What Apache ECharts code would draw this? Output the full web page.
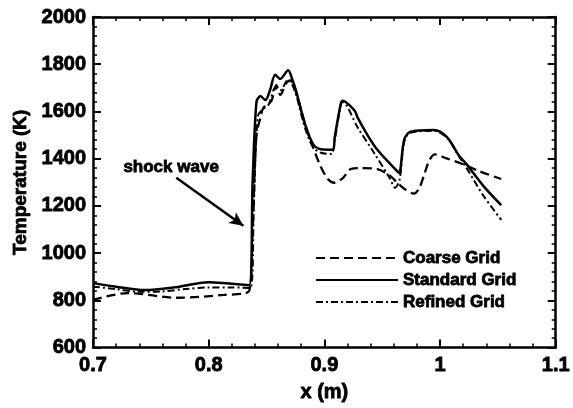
<!DOCTYPE html>
<html>
<head>
<meta charset="utf-8">
<script src="https://cdn.jsdelivr.net/npm/echarts@6/dist/echarts.min.js"></script>
<style>
  html, body { margin: 0; padding: 0; background: #fff; }
  #chart { width: 573px; height: 408px; }
</style>
</head>
<body>
<div id="chart"></div>
<script>
// x (m), temperature (K)
var coarseGrid = [
    [0.7, 802], [0.73, 831], [0.773, 811], [0.813, 823], [0.835, 840],
    [0.838, 1100], [0.8413, 1500], [0.8448, 1575], [0.8474, 1616], [0.8542, 1645],
    [0.8585, 1711], [0.8619, 1670], [0.867, 1719], [0.8705, 1731], [0.875, 1690],
    [0.8833, 1546], [0.8901, 1451], [0.896, 1376], [0.903, 1314], [0.909, 1298],
    [0.916, 1318], [0.9227, 1356], [0.931, 1360], [0.9458, 1356], [0.957, 1327],
    [0.963, 1298], [0.969, 1273], [0.9775, 1252], [0.9818, 1273], [0.986, 1327],
    [0.9904, 1389], [0.9955, 1418], [1.0058, 1401], [1.0203, 1376], [1.034, 1347],
    [1.0529, 1314]
];
var standardGrid = [
    [0.7, 873], [0.72, 858], [0.745, 844], [0.77, 855], [0.8, 877], [0.835, 864],
    [0.838, 1300], [0.8413, 1640], [0.8448, 1665], [0.849, 1648], [0.853, 1690],
    [0.8576, 1755], [0.8619, 1738], [0.8687, 1775], [0.872, 1740], [0.8756, 1686],
    [0.8833, 1546], [0.8901, 1463], [0.897, 1440], [0.9073, 1438], [0.909, 1492],
    [0.9141, 1630], [0.9158, 1645], [0.9261, 1604], [0.9287, 1575], [0.9373, 1500],
    [0.9458, 1438], [0.963, 1347], [0.9647, 1339], [0.969, 1480], [0.9741, 1513],
    [0.9947, 1521], [1.0058, 1492], [1.017, 1409], [1.023, 1376], [1.0374, 1285],
    [1.0529, 1203]
];
var refinedGrid = [
    [0.7, 858], [0.72, 848], [0.74, 836], [0.76, 838], [0.78, 848], [0.8, 855],
    [0.82, 855], [0.836, 852], [0.839, 1200], [0.8425, 1580], [0.847, 1610],
    [0.852, 1630], [0.8576, 1700], [0.8619, 1690], [0.8687, 1735], [0.872, 1715],
    [0.8756, 1670], [0.8833, 1530], [0.8901, 1450], [0.897, 1425], [0.906, 1420],
    [0.909, 1480], [0.9141, 1625], [0.9158, 1640], [0.9287, 1533], [0.9433, 1422],
    [0.957, 1314], [0.961, 1277], [0.965, 1310], [0.969, 1470], [0.9741, 1510],
    [0.9947, 1518], [1.0058, 1490], [1.017, 1405], [1.023, 1360], [1.0374, 1244],
    [1.0529, 1141]
];
var seriesNames = ['Coarse Grid', 'Standard Grid', 'Refined Grid'];
// shock wave arrow: start and end, in data units
var arrowFrom = [0.772, 1319];
var arrowTo = [0.830, 1116];

var myChart = echarts.init(document.getElementById('chart'));
var font = '"Liberation Sans", Arial, sans-serif';

// heavy bold text like the original
function boldText(size) {
    return {
        color: '#000', fontFamily: font, fontWeight: 'bold', fontSize: size,
        textBorderColor: '#000', textBorderWidth: 0.8
    };
}

var tickStyle = { color: '#000', width: 2 };
function makeX(pos, labels) {
    return {
        type: 'value', position: pos, min: 0.7, max: 1.1, interval: 0.1,
        axisLine: { show: true, onZero: false, lineStyle: { color: '#000', width: 2.5 } },
        axisTick: { show: true, inside: true, length: 8, lineStyle: tickStyle },
        minorTick: { show: true, splitNumber: 5, length: 4, lineStyle: { color: '#000', width: 1.5 } },
        splitLine: { show: false },
        axisLabel: Object.assign({
            show: labels, margin: 8,
            formatter: function (v) { return String(+v.toFixed(1)); }
        }, boldText(20)),
        name: labels ? 'x (m)' : '', nameLocation: 'middle', nameGap: 35,
        nameTextStyle: boldText(20)
    };
}
function makeY(pos, labels) {
    return {
        type: 'value', position: pos, min: 600, max: 2000, interval: 200,
        axisLine: { show: true, onZero: false, lineStyle: { color: '#000', width: 2.5 } },
        axisTick: { show: true, inside: true, length: 8, lineStyle: tickStyle },
        minorTick: { show: true, splitNumber: 5, length: 4, lineStyle: { color: '#000', width: 1.5 } },
        splitLine: { show: false },
        axisLabel: Object.assign({
            show: labels, margin: 7,
            formatter: function (v) { return String(v); }
        }, boldText(20)),
        name: labels ? 'Temperature (K)' : '', nameLocation: 'middle', nameGap: 57,
        nameTextStyle: boldText(19)
    };
}

var option = {
    animation: false,
    backgroundColor: '#fff',
    grid: { left: 93, right: 13, top: 17, bottom: 52 },
    xAxis: [makeX('bottom', true), makeX('top', false)],
    yAxis: [makeY('left', true), makeY('right', false)],
    legend: {
        orient: 'vertical', left: 310, top: 244,
        itemWidth: 82, itemHeight: 18, itemGap: 4,
        itemStyle: { opacity: 0 },
        data: seriesNames,
        textStyle: Object.assign({ lineHeight: 18 }, boldText(17))
    },
    graphic: [{
        type: 'text', left: 123, top: 158,
        style: { text: 'shock wave', fill: '#000', font: 'bold 17px ' + font, stroke: '#000', lineWidth: 0.8 }
    }],
    series: [
        {
            name: seriesNames[0], type: 'line', data: coarseGrid, smooth: 0.3,
            symbol: 'none', showSymbol: false,
            lineStyle: { color: '#000', width: 2.3, type: [9, 5] },
            itemStyle: { color: '#000' }
        },
        {
            name: seriesNames[1], type: 'line', data: standardGrid, smooth: 0.3,
            symbol: 'none', showSymbol: false,
            lineStyle: { color: '#000', width: 2.5, type: 'solid' },
            itemStyle: { color: '#000' },
            markLine: {
                silent: true, symbol: ['none', 'arrow'], symbolSize: [10, 14],
                label: { show: false },
                lineStyle: { color: '#000', width: 2.5, type: 'solid' },
                data: [[{ coord: arrowFrom }, { coord: arrowTo }]]
            }
        },
        {
            name: seriesNames[2], type: 'line', data: refinedGrid, smooth: 0.3,
            symbol: 'none', showSymbol: false,
            lineStyle: { color: '#000', width: 2, type: [7, 3, 2, 3] },
            itemStyle: { color: '#000' }
        }
    ]
};

myChart.setOption(option);
</script>
</body>
</html>
